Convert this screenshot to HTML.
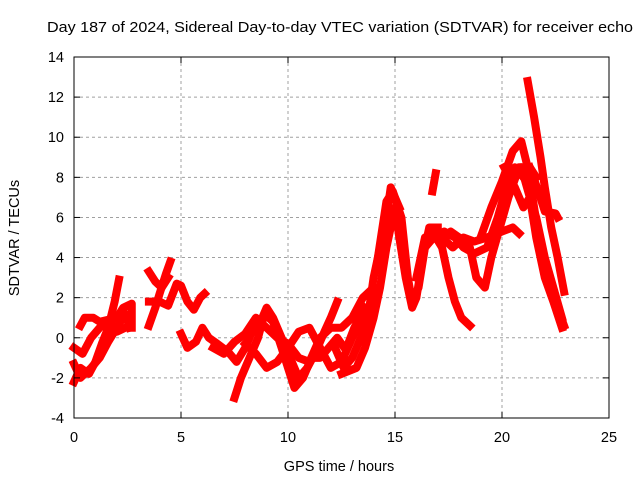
<!DOCTYPE html>
<html><head><meta charset="utf-8"><style>
body{margin:0;background:#fff;}
svg{display:block;font-family:"Liberation Sans",sans-serif;}
</style></head><body>
<svg id="chart" width="640" height="480" xmlns="http://www.w3.org/2000/svg">
<rect width="640" height="480" fill="#fff"/>
<text x="47" y="32" font-size="15" textLength="586" lengthAdjust="spacingAndGlyphs">Day 187 of 2024, Sidereal Day-to-day VTEC variation (SDTVAR) for receiver echo</text>
<g id="grid"></g>
<g id="series"></g>
<g id="axes"></g>
<text x="339" y="471" font-size="14.5" text-anchor="middle">GPS time / hours</text>
<text transform="translate(19,238) rotate(-90)" font-size="14.5" text-anchor="middle">SDTVAR / TECUs</text>
</svg>
<script>
const xTicks=[0,5,10,15,20,25];
const yTicks=[-4,-2,0,2,4,6,8,10,12,14];
const track1=[[0,-2.2],[0.3,-1.5],[0.7,-1.8],[1.0,-1.2],[1.3,-0.3],[1.6,0.5],[1.9,1.8],[2.1,2.9]];
const track2=[[0,-0.5],[0.4,-0.8],[0.8,0],[1.2,0.5],[1.6,0.8],[2.0,1.0],[2.3,1.5],[2.7,1.7],[2.7,0.5]];
const track3=[[0.3,0.6],[0.5,1.0],[0.9,1.0],[1.2,0.8],[1.6,0.9],[2.0,0.3],[2.4,0.5]];
const track4=[[0,-1.3],[0.3,-2.0],[0.8,-1.5],[1.2,-1.0],[1.6,-0.2],[2.0,0.5],[2.4,1.2],[2.6,0.5]];
const track5=[[3.5,0.6],[3.8,1.5],[4.0,2.2],[4.3,3.2],[4.5,3.8]];
const track6=[[3.5,3.3],[3.8,2.8],[4.1,2.5],[4.4,3.0]];
const track7=[[3.5,1.8],[4.0,1.8],[4.4,1.6],[4.8,2.7],[5.0,2.6],[5.3,1.8],[5.6,1.4],[5.9,2.0],[6.1,2.2]];
const track8=[[5.0,0.2],[5.3,-0.5],[5.7,-0.2],[6.0,0.5],[6.3,0],[6.7,-0.3],[7.2,-0.7],[7.6,-1.2],[8.0,-0.5],[8.4,0.5],[8.8,1.0],[9.0,1.5],[9.3,1.0],[9.7,0.0],[10.1,-1.0],[10.5,-2.0],[10.9,-1.5],[11.3,-0.7],[11.7,0.3],[12.0,1.0],[12.3,1.8]];
const track9=[[7.5,-3.0],[7.8,-2.0],[8.2,-1.0],[8.6,0],[8.9,1.2],[9.3,0.8],[9.7,-0.5],[10.0,-1.5],[10.3,-2.5],[10.7,-2.0],[11.1,-1.0],[11.5,-1.0],[11.9,-0.5],[12.3,0.0],[12.7,-0.6],[13.1,0.5],[13.6,1.5]];
const track10=[[8.0,-0.3],[8.5,-0.8],[9.0,-1.5],[9.5,-1.2],[10,-0.5],[10.5,0.3],[11.0,0.5],[11.5,-0.5],[12.0,-1.5],[12.5,-1.2],[13.0,0.0],[13.5,1.0],[14,2.0]];
const track11=[[6.5,-0.5],[7.0,-0.8],[7.5,-0.2],[8.0,0.2],[8.5,1.0],[9.0,0.5],[9.5,0.0],[10.0,-0.3],[10.5,-1.0],[11.0,-1.2],[11.5,0.0],[12.0,0.5],[12.5,0.5],[13.0,1.0],[13.5,2.0],[14.0,2.5]];
const track12=[[12.2,-0.5],[12.6,-1.5],[13.0,-1.0],[13.4,0.0],[13.8,1.5],[14.0,3.0],[14.3,4.5],[14.6,6.0],[14.8,7.5],[15.0,7.0],[15.2,6.5]];
const track13=[[12.5,-1.8],[13.2,-1.5],[13.6,-0.5],[14.0,1.0],[14.3,2.5],[14.6,4.5],[15.0,6.5],[15.2,5.0],[15.5,3.0],[15.8,1.5],[16.0,2.0],[16.3,4.0],[16.6,5.5],[17.0,5.5]];
const track14=[[14.2,4],[14.6,6.8],[14.9,7.3],[15.3,6],[15.6,3],[15.8,1.8],[16.1,2.5],[16.4,4.5],[16.8,5.0],[17.3,5.3],[17.8,5.0],[18.2,4.5],[18.7,4.2],[19.3,4.5],[19.8,6.0],[20.2,7.5],[20.6,8.5],[21.0,8.0]];
const track15=[[16.0,3.0],[16.4,5.0],[16.8,5.2],[17.2,4.5],[17.5,3.0],[17.8,1.8],[18.1,1.0],[18.5,0.6]];
const track16=[[16.8,5.0],[17.2,4.8],[17.6,5.3],[18.0,5.0],[18.5,4.5],[18.8,3.0],[19.2,2.5],[19.5,4.0],[19.9,5.5],[20.3,7.0],[20.8,8.5],[21.3,8.5],[21.6,8.0]];
const track17=[[16.75,7.3],[16.9,8.2]];
const track18=[[17.2,5.0],[17.7,4.5],[18.2,5.0],[18.7,4.8],[19.3,5.0],[20.0,5.3],[20.5,5.5],[20.8,5.2]];
const track19=[[19.0,5.0],[19.5,6.5],[20.0,7.8],[20.5,9.3],[20.9,9.8],[21.2,8.5],[21.5,6.5],[21.8,4.5],[22.2,3.0],[22.6,1.5],[22.9,0.6]];
const track20=[[19.5,4.5],[20.0,6.5],[20.4,8.0],[20.9,8.5],[21.3,7.0],[21.6,5.0],[22.0,3.0],[22.4,1.8],[22.8,0.5]];
const track21=[[21.2,12.8],[21.5,11],[21.8,9],[22.0,7.5],[22.3,5.5],[22.6,4.0],[22.9,2.3]];
const track22=[[21.3,8.5],[21.7,7.3],[22.0,6.3],[22.5,6.2],[22.6,6.0]];
const track23=[[20.1,8.5],[20.6,7.5],[21.0,6.5],[21.3,7.0],[21.6,6.0],[22.0,4.0],[22.4,2.5],[22.8,1.0]];
const tracks=[track1,track2,track3,track4,track5,track6,track7,track8,track9,track10,track11,track12,track13,track14,track15,track16,track17,track18,track19,track20,track21,track22,track23];

const L=74,R=609,T=57,B=418;
const xMin=0,xMax=25,yMin=-4,yMax=14;
const sx=v=>L+(v-xMin)/(xMax-xMin)*(R-L);
const sy=v=>B-(v-yMin)/(yMax-yMin)*(B-T);
const NS="http://www.w3.org/2000/svg";
function mk(tag,attrs,parent){const e=document.createElementNS(NS,tag);for(const k in attrs)e.setAttribute(k,attrs[k]);parent.appendChild(e);return e;}
const grid=document.getElementById('grid'),axes=document.getElementById('axes'),series=document.getElementById('series');
xTicks.forEach(t=>{
  const x=sx(t);
  if(t>xMin&&t<xMax){const g=mk('line',{x1:x,x2:x,y1:T,y2:B,stroke:'#a0a0a0','stroke-dasharray':'3,3'},grid);
  
  }
  mk('line',{x1:x,x2:x,y1:B,y2:B-6,stroke:'#000'},axes);
  mk('line',{x1:x,x2:x,y1:T,y2:T+6,stroke:'#000'},axes);
  const lb=mk('text',{x:x,y:B+24,'font-size':'14.5','text-anchor':'middle'},axes);
  lb.textContent=t;
  
  
});
yTicks.forEach(t=>{
  const y=sy(t);
  if(t>yMin&&t<yMax){const g=mk('line',{x1:L,x2:R,y1:y,y2:y,stroke:'#a0a0a0','stroke-dasharray':'3,3'},grid);
  
  }
  mk('line',{x1:L,x2:L+6,y1:y,y2:y,stroke:'#000'},axes);
  mk('line',{x1:R,x2:R-6,y1:y,y2:y,stroke:'#000'},axes);
  const lb=mk('text',{x:L-10,y:y+5,'font-size':'14.5','text-anchor':'end'},axes);
  lb.textContent=t;
  
  
});
const fr=mk('rect',{x:L,y:T,width:R-L,height:B-T,fill:'none',stroke:'#000','stroke-width':1},axes);


tracks.forEach(tr=>{
  const p=mk('polyline',{points:tr.map(d=>sx(d[0])+','+sy(d[1])).join(' '),fill:'none',stroke:'#ff0000','stroke-width':8,'stroke-linejoin':'round','stroke-linecap':'square'},series);
  
  
});
</script>
</body></html>
